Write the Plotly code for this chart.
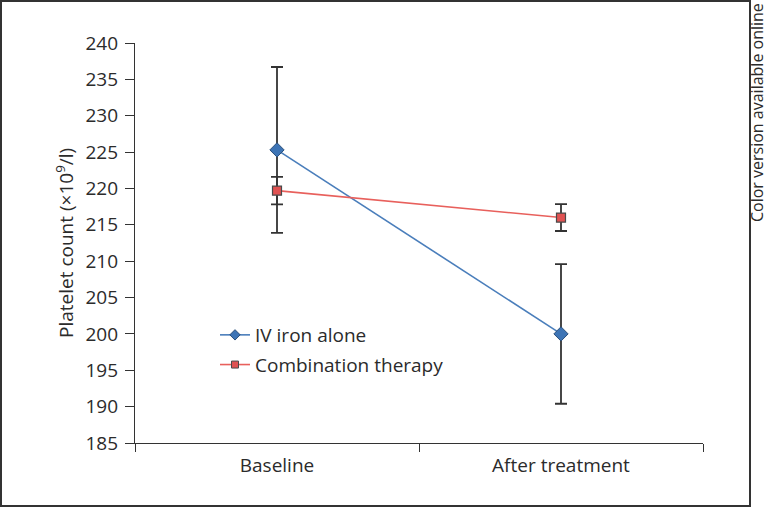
import plotly.graph_objects as go

categories = ["Baseline", "After treatment"]
iv_iron = [225.3, 200.0]
iv_iron_err = [11.4, 9.6]
combo = [219.7, 216.0]
combo_err = [1.9, 1.85]
y_ticks = [185, 190, 195, 200, 205, 210, 215, 220, 225, 230, 235, 240]

FONT = "Open Sans"
TXT = "#2b2b2b"
W, H = 767, 507
L, R, T, B = 135, 64, 43, 64
pw, ph = W - L - R, H - T - B

def px(x):
    return (x - L) / pw

def py(y):
    return (H - B - y) / ph

BLUE_LINE, BLUE_FILL, BLUE_EDGE = "#4a7ebb", "#3d74b5", "#2a4f7a"
RED_LINE, RED_FILL, RED_EDGE = "#e8605c", "#e05252", "#4a4a4a"

fig = go.Figure()
fig.add_trace(go.Scatter(
    x=categories, y=iv_iron, name="IV iron alone", mode="lines+markers",
    showlegend=False,
    line=dict(color=BLUE_LINE, width=1.6),
    marker=dict(symbol="diamond", size=11, color=BLUE_FILL, line=dict(color=BLUE_EDGE, width=1)),
    error_y=dict(type="data", array=iv_iron_err, color="#333333", thickness=1.8, width=6),
))
fig.add_trace(go.Scatter(
    x=categories, y=combo, name="Combination therapy", mode="lines+markers",
    showlegend=False,
    line=dict(color=RED_LINE, width=1.6),
    marker=dict(symbol="square", size=9, color=RED_FILL, line=dict(color=RED_EDGE, width=1.2)),
    error_y=dict(type="data", array=combo_err, color="#333333", thickness=1.8, width=6),
))
# legend entries (smaller symbols, as in the reference)
fig.add_trace(go.Scatter(
    x=[None], y=[None], name="IV iron alone", mode="lines+markers", legendgroup="a",
    line=dict(color=BLUE_LINE, width=1.6),
    marker=dict(symbol="diamond", size=8, color=BLUE_FILL, line=dict(color=BLUE_EDGE, width=1)),
))
fig.add_trace(go.Scatter(
    x=[None], y=[None], name="Combination therapy", mode="lines+markers", legendgroup="b",
    line=dict(color=RED_LINE, width=1.6),
    marker=dict(symbol="square", size=7, color=RED_FILL, line=dict(color=RED_EDGE, width=1)),
))

fig.update_layout(
    width=W, height=H,
    margin=dict(l=L, r=R, t=T, b=B, pad=0),
    paper_bgcolor="white", plot_bgcolor="white",
    font=dict(family=FONT, size=19, color=TXT),
    showlegend=True,
    legend=dict(x=px(215), y=py(316), xanchor="left", yanchor="top",
                bgcolor="rgba(0,0,0,0)", font=dict(size=19, color=TXT),
                tracegroupgap=2),
    xaxis=dict(type="category", range=[-0.5, 1.5], tickson="boundaries",
               ticks="outside", ticklen=8, tickwidth=1.3, tickcolor="#333",
               ticklabelstandoff=5,
               showline=True, linecolor="#333", linewidth=1.3,
               showgrid=False, zeroline=False, tickfont=dict(size=19, color=TXT)),
    yaxis=dict(range=[185, 240], tickvals=y_ticks, ticks="outside", ticklen=9,
               tickwidth=1.3, tickcolor="#333", showline=True, linecolor="#333",
               ticklabelstandoff=3,
               linewidth=1.3, showgrid=False, zeroline=False,
               tickfont=dict(size=19, color=TXT)),
    shapes=[dict(type="rect", xref="paper", yref="paper",
                 x0=px(1), x1=px(750), y0=py(506), y1=py(1),
                 line=dict(color="#333", width=2), fillcolor="rgba(0,0,0,0)")],
    annotations=[
        dict(text="Platelet count (×10<sup>9</sup>/l)", xref="paper", yref="paper",
             x=px(65), y=0.5, xanchor="center", yanchor="middle", textangle=-90,
             showarrow=False, font=dict(size=19, color=TXT)),
        dict(text="Color version available online", xref="paper", yref="paper",
             x=px(757), y=py(113), xanchor="center", yanchor="middle", textangle=-90,
             showarrow=False, font=dict(size=16, color=TXT)),
    ],
)

fig.write_html("out.html", config={"displayModeBar": False},
               post_script="document.body.style.margin='0';document.body.style.overflow='hidden';")
